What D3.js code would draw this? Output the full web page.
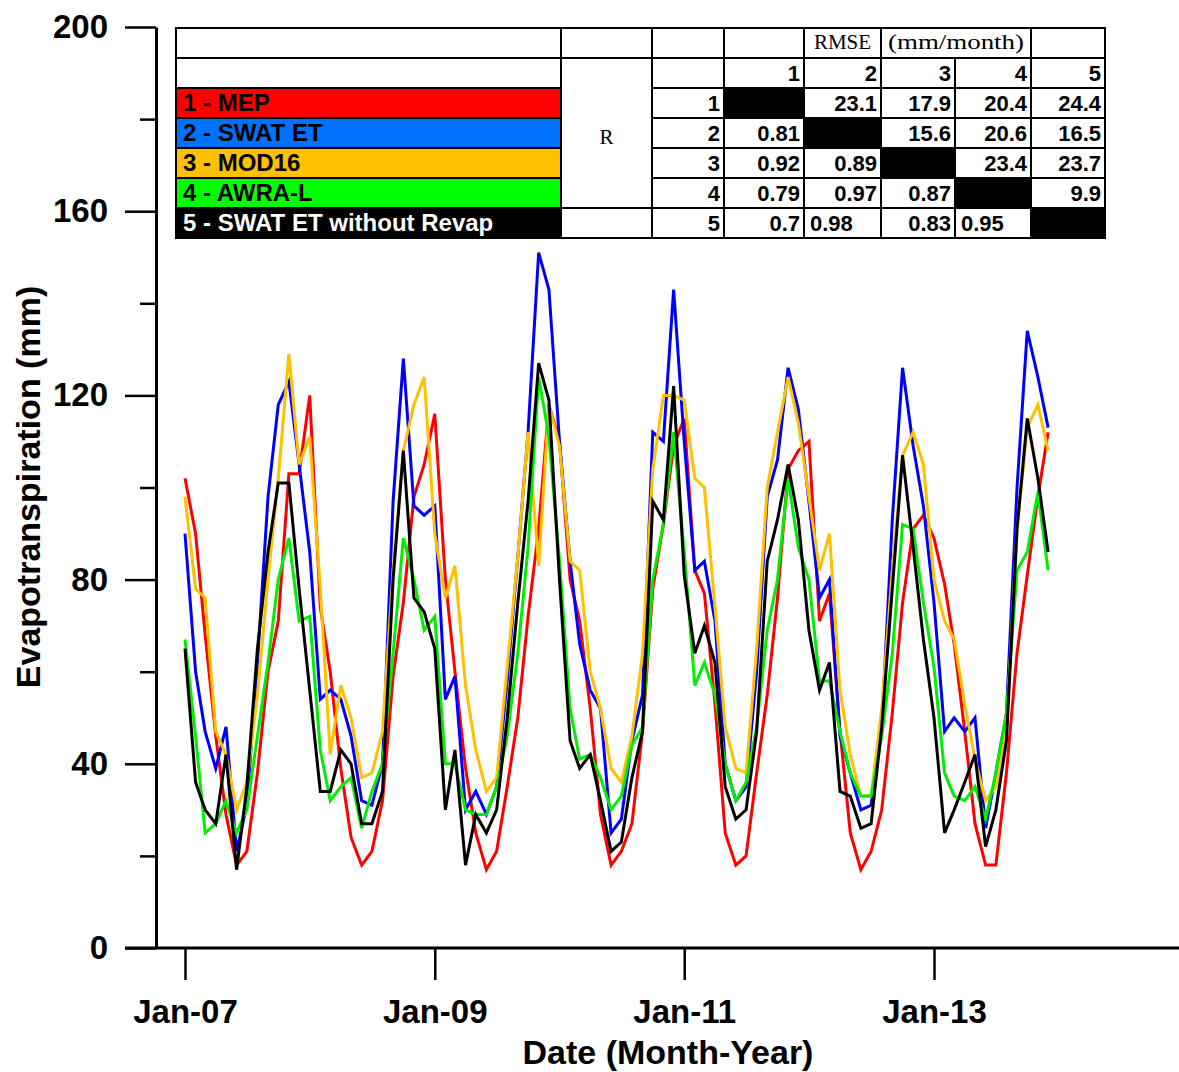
<!DOCTYPE html>
<html>
<head>
<meta charset="utf-8">
<script src="https://cdn.jsdelivr.net/npm/d3@7"></script>
<style>
  body { margin: 0; background: #fff; }
  text { font-family: "Liberation Sans", Arial, sans-serif; font-weight: bold; }
  .serif { font-family: "Liberation Serif", "Times New Roman", serif; font-weight: normal; }
</style>
</head>
<body>
<div id="viz"></div>
<script>
"use strict";

// monthly ET (mm), Jan-2007 .. Dec-2013
var mep = [
  102, 90, 68, 46, 29, 18, 21, 38, 60, 71, 103, 103,
  120, 74, 60, 39, 24, 18, 21, 32, 59, 75, 98, 105,
  116, 80, 60, 39, 25, 17, 21, 35, 50, 72, 91, 118,
  110, 80, 71, 52, 29, 18, 21, 27, 47, 78, 92, 109,
  115, 82, 77, 53, 25, 18, 20, 38, 55, 76, 104, 108,
  110, 71, 77, 47, 25, 17, 21, 30, 51, 75, 91, 94,
  89, 79, 66, 47, 27, 18, 18, 38, 64, 81, 98, 112];
var swatEt = [
  90, 60, 47, 39, 48, 21, 31, 62, 98, 118, 123, 105,
  86, 54, 56, 54, 46, 32, 31, 40, 97, 128, 96, 94,
  96, 54, 59, 30, 34, 29, 35, 58, 85, 112, 151, 143,
  110, 84, 66, 56, 52, 25, 28, 45, 55, 112, 110, 143,
  110, 82, 84, 71, 40, 32, 35, 60, 98, 106, 126, 117,
  97, 76, 80, 46, 38, 30, 31, 48, 93, 126, 109, 96,
  75, 47, 50, 47, 50, 26, 38, 51, 100, 134, 124, 113];
var mod16 = [
  98, 78, 76, 47, 42, 30, 36, 55, 80, 102, 129, 105,
  111, 78, 42, 57, 50, 37, 38, 47, 82, 108, 118, 124,
  90, 76, 83, 57, 43, 34, 37, 61, 85, 112, 83, 118,
  109, 84, 82, 60, 52, 39, 36, 46, 64, 104, 120, 120,
  119, 102, 100, 74, 48, 39, 38, 65, 100, 112, 124, 114,
  98, 82, 90, 56, 42, 33, 33, 52, 82, 107, 112, 105,
  80, 71, 67, 53, 41, 32, 35, 47, 91, 113, 118, 108];
var awral = [
  67, 46, 25, 27, 32, 25, 30, 46, 62, 80, 89, 71,
  72, 43, 32, 35, 37, 26, 34, 40, 64, 89, 80, 69,
  72, 40, 40, 30, 29, 29, 35, 46, 64, 87, 124, 111,
  84, 52, 41, 42, 37, 30, 33, 44, 48, 80, 92, 112,
  86, 57, 62, 55, 40, 32, 36, 48, 69, 80, 102, 87,
  80, 58, 58, 47, 38, 33, 33, 46, 64, 92, 91, 75,
  61, 38, 33, 32, 35, 28, 38, 51, 82, 86, 99, 82];
var swatNoRevap = [
  65, 36, 30, 27, 42, 17, 35, 65, 86, 101, 101, 78,
  56, 34, 34, 43, 40, 27, 27, 34, 80, 108, 76, 73,
  65, 30, 43, 18, 29, 25, 30, 50, 75, 97, 127, 119,
  80, 45, 39, 42, 32, 21, 23, 37, 47, 97, 93, 122,
  81, 64, 70, 62, 35, 28, 30, 47, 84, 93, 105, 93,
  69, 56, 62, 34, 33, 26, 27, 48, 78, 107, 87, 67,
  50, 25, 30, 36, 42, 22, 30, 45, 91, 115, 102, 86];

var seriesNames = ["1 - MEP", "2 - SWAT ET", "3 - MOD16", "4 - AWRA-L", "5 - SWAT ET without Revap"];
var lineColors = ["#ff0000", "#0000ff", "#ffc000", "#00ee00", "#000000"];
var legendFills = ["#ff0000", "#0070ff", "#ffc000", "#00ff00", "#000000"];

var yTicks = [0, 40, 80, 120, 160, 200];
var yMinorTicks = [20, 60, 100, 140, 180];
var xTickLabels = ["Jan-07", "Jan-09", "Jan-11", "Jan-13"];

// R (lower) / RMSE (upper) matrix, null = diagonal
var statRows = [
  [null, "23.1", "17.9", "20.4", "24.4"],
  ["0.81", null, "15.6", "20.6", "16.5"],
  ["0.92", "0.89", null, "23.4", "23.7"],
  ["0.79", "0.97", "0.87", null, "9.9"],
  ["0.7", "0.98", "0.83", "0.95", null]
];
var statColLabels = ["1", "2", "3", "4", "5"];

var w = 1179;
var h = 1072;

var svg = d3.select("#viz")
  .append("svg")
  .attr("width", w)
  .attr("height", h)

var months = d3.timeMonth.range(new Date(2007, 0, 1), new Date(2014, 0, 1));
var parseLabel = d3.timeParse("%b-%y");

var x = d3.scaleTime()
  .domain([new Date(2007, 0, 1), new Date(2013, 0, 1)])
  .range([185, 934]);
var y = d3.scaleLinear()
  .domain([0, 200])
  .range([948, 27]);

// axes
var xAxis = svg.append("g")
  .attr("transform", "translate(0,948)")
  .call(d3.axisBottom(x)
    .tickValues(xTickLabels.map(parseLabel))
    .tickFormat(d3.timeFormat("%b-%y"))
    .tickSize(32)
    .tickPadding(20));
xAxis.select(".domain").remove();
xAxis.selectAll("line").attr("stroke", "#000").attr("stroke-width", 2.5);
xAxis.selectAll("text").attr("font-size", 33).attr("fill", "#000");

svg.append("line")
  .attr("x1", 125).attr("x2", w)
  .attr("y1", y(0)).attr("y2", y(0))
  .attr("stroke", "#000").attr("stroke-width", 3);

var yAxis = svg.append("g")
  .attr("transform", "translate(156,0)")
  .call(d3.axisLeft(y)
    .tickValues(yTicks)
    .tickSize(31)
    .tickSizeOuter(0)
    .tickPadding(17));
yAxis.select(".domain").attr("stroke-width", 3);
yAxis.selectAll("line").attr("stroke", "#000").attr("stroke-width", 2.5);
yAxis.selectAll("text").attr("font-size", 33).attr("fill", "#000");

svg.append("g")
  .attr("transform", "translate(156,0)")
  .call(d3.axisLeft(y).tickValues(yMinorTicks).tickSize(16).tickFormat(""))
  .call(function(g) { g.select(".domain").remove(); })
  .selectAll("line").attr("stroke", "#000").attr("stroke-width", 2.5);

svg.append("text")
  .attr("transform", "translate(40,487) rotate(-90)")
  .attr("text-anchor", "middle")
  .attr("font-size", 34)
  .text("Evapotranspiration (mm)");

svg.append("text")
  .attr("x", 668)
  .attr("y", 1064)
  .attr("text-anchor", "middle")
  .attr("font-size", 34)
  .text("Date (Month-Year)");

// lines
var allSeries = [mep, swatEt, mod16, awral, swatNoRevap];
var line = d3.line()
  .x(function(d, i) { return x(months[i]); })
  .y(function(d) { return y(d); });

svg.append("g")
  .selectAll("path.series")
  .data(allSeries).enter()
  .append("path")
  .classed("series", true)
  .attr("fill", "none")
  .attr("stroke", function(d, i) { return lineColors[i]; })
  .attr("stroke-width", 3)
  .attr("stroke-linejoin", "miter")
  .attr("d", line);

// table
var colX = [176, 561, 652, 724, 804, 881, 955, 1031, 1105];
var rowY = [28, 58, 88, 118, 148, 178, 208, 238];
var table = svg.append("g");

function cell(c0, c1, r0, r1, fill) {
  table.append("rect")
    .attr("x", colX[c0]).attr("y", rowY[r0])
    .attr("width", colX[c1] - colX[c0])
    .attr("height", rowY[r1] - rowY[r0])
    .attr("fill", fill || "#fff")
    .attr("stroke", "#000")
    .attr("stroke-width", 2);
}
function label(txt, xx, yy, anchor, color, size, cls) {
  var t = table.append("text")
    .attr("x", xx).attr("y", yy)
    .attr("text-anchor", anchor)
    .attr("fill", color || "#000")
    .attr("font-size", size || 22)
    .text(txt);
  if (cls) t.classed(cls, true);
  return t;
}

// header row
cell(0, 1, 0, 1); cell(1, 2, 0, 1); cell(2, 3, 0, 1); cell(3, 4, 0, 1);
cell(4, 5, 0, 1); cell(5, 7, 0, 1); cell(7, 8, 0, 1);
label("RMSE", (colX[4] + colX[5]) / 2, rowY[0] + 21, "middle", "#000", 21, "serif");
label("(mm/month)", (colX[5] + colX[7]) / 2, rowY[0] + 21, "middle", "#000", 22, "serif")
  .attr("textLength", 136).attr("lengthAdjust", "spacingAndGlyphs");

// column numbers row
cell(0, 1, 1, 2); cell(2, 3, 1, 2);
statColLabels.forEach(function(s, j) {
  cell(3 + j, 4 + j, 1, 2);
  label(s, colX[4 + j] - 4, rowY[1] + 23, "end");
});

// R block
cell(1, 2, 1, 6);
cell(1, 2, 6, 7);
label("R", (colX[1] + colX[2]) / 2, 144, "middle", "#000", 21, "serif");

// legend + matrix
var leftAlign = { "4,1": true, "4,3": true };
seriesNames.forEach(function(name, i) {
  var r = i + 2;
  cell(0, 1, r, r + 1, legendFills[i]);
  label(name, colX[0] + 7, rowY[r] + 23, "start", i === 4 ? "#fff" : "#000", 24);
  cell(2, 3, r, r + 1);
  label(statColLabels[i], colX[3] - 4, rowY[r] + 23, "end");
  statRows[i].forEach(function(v, j) {
    cell(3 + j, 4 + j, r, r + 1, v === null ? "#000" : "#fff");
    if (v === null) return;
    if (leftAlign[i + "," + j]) {
      label(v, colX[3 + j] + 6, rowY[r] + 23, "start");
    } else {
      label(v, colX[4 + j] - 4, rowY[r] + 23, "end");
    }
  });
});
</script>
</body>
</html>
